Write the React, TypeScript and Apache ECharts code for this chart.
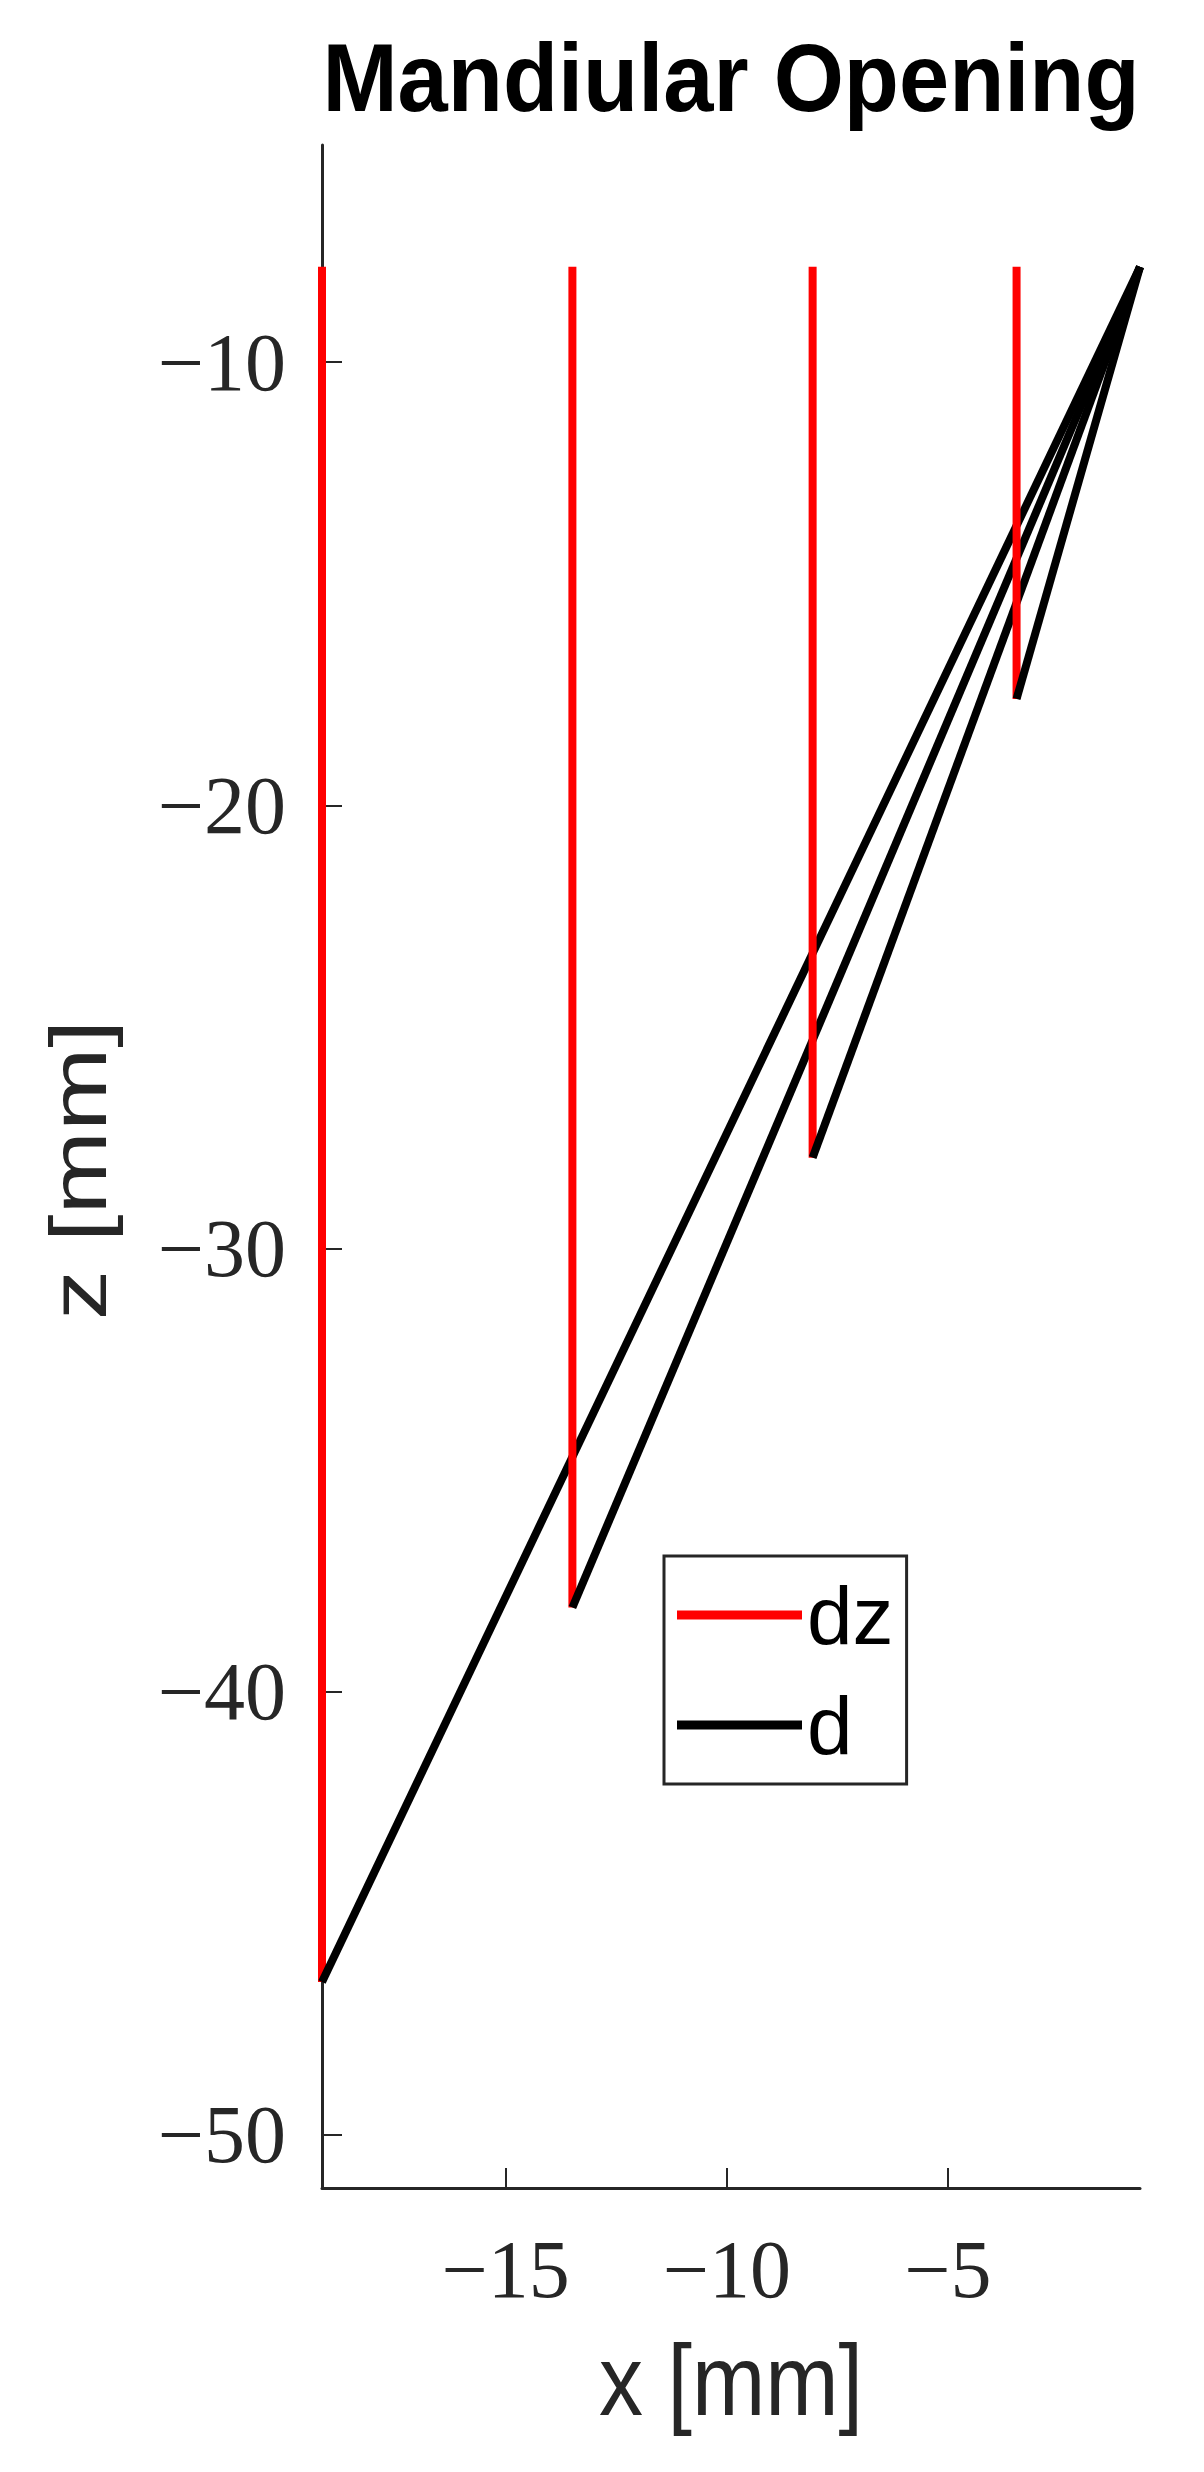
import React, { useEffect, useRef } from "react";
import * as echarts from "echarts";

// Common start point of every opening vector
const startX = -0.66;
const startZ = -7.85;
// End points of the openings (largest first)
const endX = [-19.15, -13.49, -8.06, -3.45];
const endZ = [-46.55, -38.1, -27.95, -17.6];
// Axis ticks
const xTicks = [-15, -10, -5];
const zTicks = [-50, -40, -30, -20, -10];
const zMin = -51.2;
const zMax = -5.1;

const fmt = (v: number) => String(v).replace("-", "\u2212");

export default function App() {
  const ref = useRef<HTMLDivElement>(null);
  useEffect(() => {
    if (!ref.current) return;
    const chart = echarts.init(ref.current, null, { renderer: "svg" });
    const series: any[] = [];
    endX.forEach((x, i) => {
      series.push({
        name: "dz",
        type: "line",
        data: [
          [x, startZ],
          [x, endZ[i]],
        ],
        symbol: "none",
        showSymbol: false,
        clip: false,
        lineStyle: { color: "#ff0000", width: 8, cap: "butt" },
        itemStyle: { color: "#ff0000" },
      });
      series.push({
        name: "d",
        type: "line",
        data: [
          [startX, startZ],
          [x, endZ[i]],
        ],
        symbol: "none",
        showSymbol: false,
        clip: false,
        lineStyle: { color: "#000000", width: 8, cap: "butt" },
        itemStyle: { color: "#000000" },
      });
    });
    const axisColor = "#262626";
    chart.setOption({
      animation: false,
      backgroundColor: "#ffffff",
      grid: { left: 322, right: 64, top: 145, bottom: 284, containLabel: false },
      xAxis: {
        type: "value",
        min: "dataMin",
        max: "dataMax",
        splitLine: { show: false },
        axisLine: { onZero: false, lineStyle: { color: axisColor, width: 3 } },
        axisTick: {
          inside: true,
          length: 20,
          customValues: xTicks,
          lineStyle: { color: axisColor, width: 2 },
        },
        axisLabel: {
          customValues: xTicks,
          formatter: fmt,
          margin: 40,
          fontFamily: "Liberation Serif",
          fontSize: 82,
          color: axisColor,
        },
      },
      yAxis: {
        type: "value",
        min: zMin,
        max: zMax,
        splitLine: { show: false },
        axisLine: { onZero: false, lineStyle: { color: axisColor, width: 3 } },
        axisTick: {
          inside: true,
          length: 20,
          customValues: zTicks,
          lineStyle: { color: axisColor, width: 2 },
        },
        axisLabel: {
          customValues: zTicks,
          formatter: fmt,
          margin: 36,
          fontFamily: "Liberation Serif",
          fontSize: 82,
          color: axisColor,
        },
      },
      legend: {
        orient: "vertical",
        left: 664,
        top: 1556,
        data: [
          { name: "dz", icon: "rect", itemStyle: { color: "#ff0000" } },
          { name: "d", icon: "rect", itemStyle: { color: "#000000" } },
        ],
        itemWidth: 125,
        itemHeight: 9,
        itemGap: 28,
        padding: [18, 13, 18, 13],
        borderColor: axisColor,
        borderWidth: 3,
        backgroundColor: "#ffffff",
        textStyle: { fontFamily: "Liberation Sans", fontSize: 82, color: "#000000" },
        selectedMode: false,
      },
      graphic: [
        {
          type: "text",
          x: 731,
          y: 78,
          style: {
            text: "Mandiular Opening",
            font: "bold 96px 'Liberation Sans'",
            fill: "#000000",
            textAlign: "center",
            textVerticalAlign: "middle",
          },
          scaleX: 0.94,
        },
        {
          type: "text",
          x: 731,
          y: 2380,
          scaleX: 0.88,
          style: {
            text: "x [mm]",
            font: "100px 'Liberation Sans'",
            fill: "#262626",
            textAlign: "center",
            textVerticalAlign: "middle",
          },
        },
        {
          type: "text",
          x: 78,
          y: 1170,
          rotation: Math.PI / 2,
          scaleY: 0.8,
          style: {
            text: "z [mm]",
            font: "100px 'Liberation Sans'",
            fill: "#262626",
            textAlign: "center",
            textVerticalAlign: "middle",
          },
        },
      ],
      series,
    });
    return () => chart.dispose();
  }, []);
  return (
    <div
      ref={ref}
      style={{ position: "absolute", left: 0, top: 0, width: 1204, height: 2472 }}
    />
  );
}
